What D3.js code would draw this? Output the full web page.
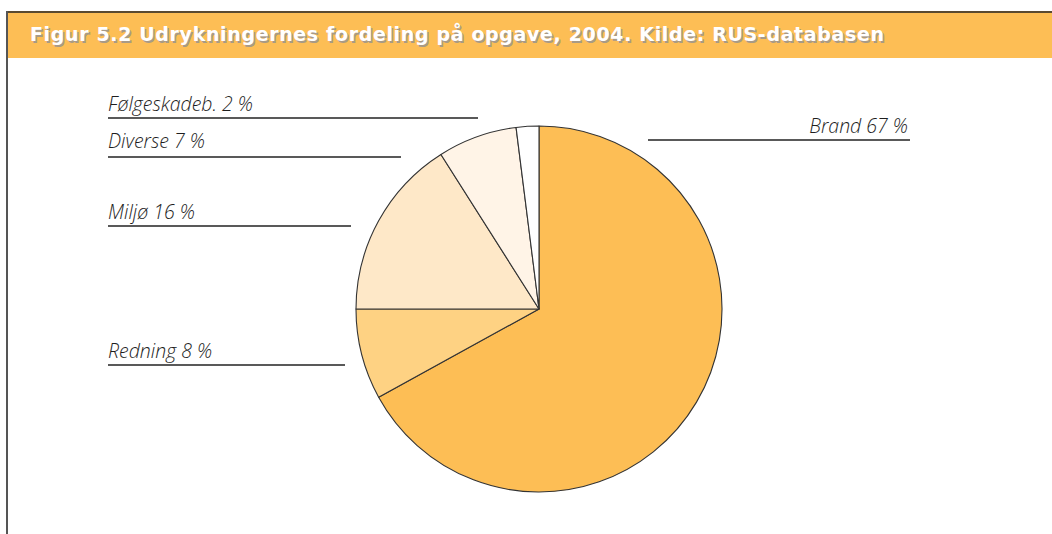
<!DOCTYPE html>
<html>
<head>
<meta charset="utf-8">
<script src="https://cdn.jsdelivr.net/npm/d3@7"></script>
<style>
  body { margin: 0; background: #fff; }
  svg { display: block; }
</style>
</head>
<body>
<script>
// data, clockwise from 12 o'clock
var categories = ["Brand", "Redning", "Miljø", "Diverse", "Følgeskadeb."];
var values = [67, 8, 16, 7, 2];
var colours = ["#fdbe55", "#fed283", "#fee8c8", "#fff4e7", "#ffffff"];
var title = "Figur 5.2 Udrykningernes fordeling på opgave, 2004. Kilde: RUS-databasen";

const width = 1052;
const height = 534;

var svg = d3.select("body").append("svg")
    .attr("width", width)
    .attr("height", height);

// title bar
svg.append("rect")
    .attr("x", 7).attr("y", 12)
    .attr("width", width - 7).attr("height", 46)
    .attr("fill", "#fdbe55");
svg.append("line")
    .attr("x1", 7).attr("x2", width)
    .attr("y1", 12).attr("y2", 12)
    .attr("stroke", "#5a4a30").attr("stroke-width", 2);
svg.append("line")
    .attr("x1", 7).attr("x2", 7)
    .attr("y1", 11).attr("y2", height)
    .attr("stroke", "#555").attr("stroke-width", 2);

// shadow then text
[["#a89a86", 1.5], ["#ffffff", 0]].forEach(function (s) {
    svg.append("text")
        .attr("x", 30 + s[1]).attr("y", 41 + s[1])
        .attr("textLength", 854)
        .attr("lengthAdjust", "spacing")
        .attr("font-family", "'DejaVu Sans', sans-serif")
        .attr("font-weight", "bold")
        .attr("font-size", 19)
        .attr("fill", s[0])
        .text(title);
});

// pie
var cx = 539, cy = 309, r = 183;
var pie = d3.pie().sort(null).value(function (d) { return d; });
var arc = d3.arc().innerRadius(0).outerRadius(r);
var arcs = pie(values);

svg.append("g")
    .attr("transform", "translate(" + cx + "," + cy + ")")
    .selectAll("path")
    .data(arcs)
    .enter().append("path")
    .attr("d", arc)
    .attr("fill", function (d, i) { return colours[i]; })
    .attr("stroke", "#333")
    .attr("stroke-width", 1.1)
    .attr("stroke-linejoin", "round");

// labels: text baseline, underline y, line x range, anchor
var labelPos = [
    { y: 133, ly: 140, x1: 648, x2: 910, anchor: "end" },
    { y: 358, ly: 365, x1: 108, x2: 345, anchor: "start" },
    { y: 219, ly: 226, x1: 108, x2: 351, anchor: "start" },
    { y: 148, ly: 157, x1: 108, x2: 401, anchor: "start" },
    { y: 111, ly: 118, x1: 108, x2: 478, anchor: "start" }
];

var labels = svg.append("g").selectAll("g")
    .data(arcs)
    .enter().append("g");

labels.append("line")
    .attr("x1", function (d, i) { return labelPos[i].x1; })
    .attr("x2", function (d, i) { return labelPos[i].x2; })
    .attr("y1", function (d, i) { return labelPos[i].ly; })
    .attr("y2", function (d, i) { return labelPos[i].ly; })
    .attr("stroke", "#222")
    .attr("stroke-width", 1.4);

labels.append("text")
    .attr("x", function (d, i) { return labelPos[i].anchor === "end" ? labelPos[i].x2 - 2 : labelPos[i].x1; })
    .attr("y", function (d, i) { return labelPos[i].y; })
    .attr("text-anchor", function (d, i) { return labelPos[i].anchor; })
    .attr("font-family", "'Open Sans', sans-serif")
    .attr("font-style", "italic")
    .attr("font-weight", 300)
    .attr("font-size", 19.5)
    .attr("fill", "#1e1e1e")
    .text(function (d, i) { return categories[i] + " " + values[i] + " %"; });
</script>
</body>
</html>
